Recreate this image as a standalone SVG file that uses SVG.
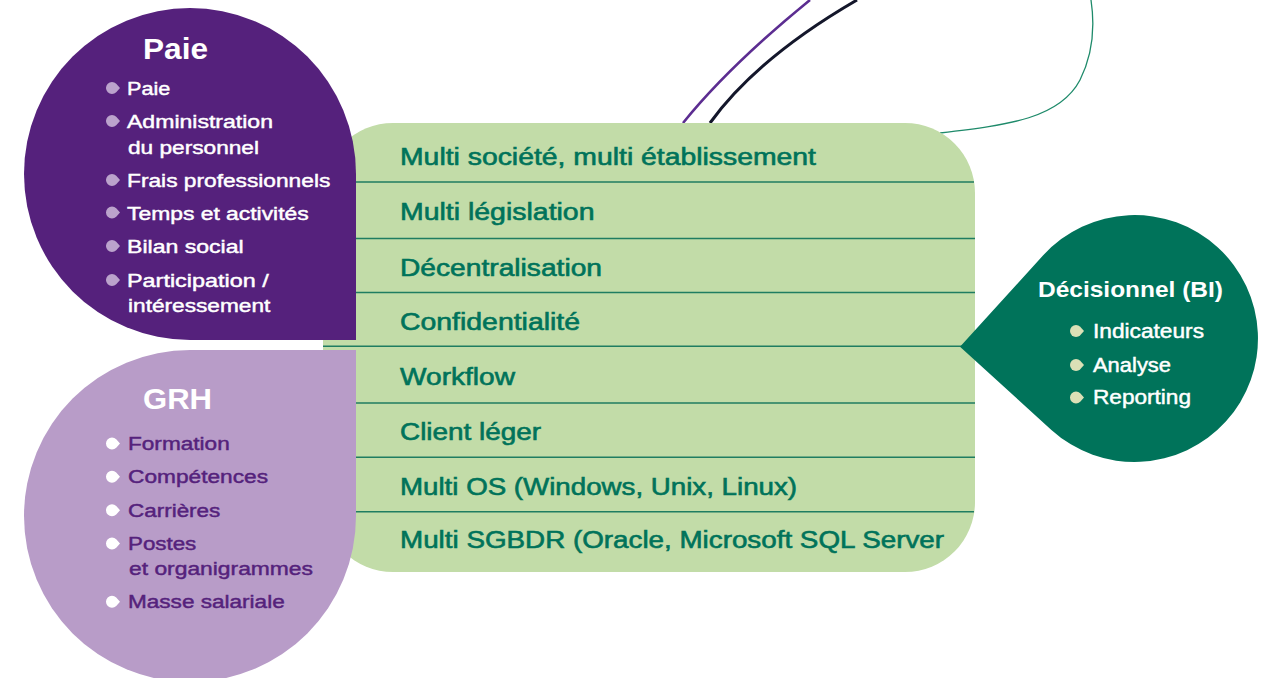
<svg xmlns="http://www.w3.org/2000/svg" width="1275" height="678" viewBox="0 0 1275 678">
<defs>
<path id="bul" d="M 8,0 L 4.24,-4.24 A 6 6 0 1 0 4.24,4.24 Z"/>
<style>
text{font-family:"Liberation Sans",Arial,sans-serif}
.feat{font-size:23.5px;fill:#00735a;stroke:#00735a;stroke-width:0.6}
.sep{stroke:#1f7d61;stroke-width:1.6;fill:none}
.title{font-size:29.5px;font-weight:bold;fill:#ffffff}
.pi{font-size:18.8px;fill:#ffffff;stroke:#ffffff;stroke-width:0.45}
.gi{font-size:18.8px;fill:#55227c;stroke:#55227c;stroke-width:0.45}
.bt{font-size:22.5px;font-weight:bold;fill:#ffffff}
.bi{font-size:20px;fill:#ffffff;stroke:#ffffff;stroke-width:0.45}
</style>
</defs>
<rect width="1275" height="678" fill="#ffffff"/>
<g id="connectors" fill="none">
<path d="M 683,123 Q 729,66 810,0" stroke="#5c2d91" stroke-width="2.6"/>
<path d="M 710,123 Q 757,58 857,0" stroke="#14172b" stroke-width="3"/>
<path d="M 940,133 C 1010,125 1060,118 1080,80 C 1095,50 1094,20 1091,0" stroke="#1e8a6a" stroke-width="1.3"/>
</g>
<g id="features">
<rect x="323" y="123" width="652" height="449" rx="70" ry="70" fill="#c2dca8"/>
<line class="sep" x1="340" y1="182" x2="974" y2="182"/>
<line class="sep" x1="340" y1="238.5" x2="975" y2="238.5"/>
<line class="sep" x1="340" y1="292.5" x2="975" y2="292.5"/>
<line class="sep" x1="323" y1="346.3" x2="962" y2="346.3"/>
<line class="sep" x1="340" y1="403" x2="975" y2="403"/>
<line class="sep" x1="340" y1="457.3" x2="975" y2="457.3"/>
<line class="sep" x1="340" y1="511.7" x2="974" y2="511.7"/>
<text class="feat" x="400" y="165" textLength="416" lengthAdjust="spacingAndGlyphs">Multi société, multi établissement</text>
<text class="feat" x="400" y="220" textLength="194.5" lengthAdjust="spacingAndGlyphs">Multi législation</text>
<text class="feat" x="400" y="275.5" textLength="202" lengthAdjust="spacingAndGlyphs">Décentralisation</text>
<text class="feat" x="400" y="330" textLength="180" lengthAdjust="spacingAndGlyphs">Confidentialité</text>
<text class="feat" x="400" y="385" textLength="115" lengthAdjust="spacingAndGlyphs">Workflow</text>
<text class="feat" x="400" y="440" textLength="141" lengthAdjust="spacingAndGlyphs">Client léger</text>
<text class="feat" x="400" y="495" textLength="397" lengthAdjust="spacingAndGlyphs">Multi OS (Windows, Unix, Linux)</text>
<text class="feat" x="400" y="548" textLength="544" lengthAdjust="spacingAndGlyphs">Multi SGBDR (Oracle, Microsoft SQL Server</text>
</g>
<g id="paie">
<path d="M 190,8 A 166 166 0 0 1 356,174 L 356,340 L 190,340 A 166 166 0 0 1 24,174 A 166 166 0 0 1 190,8 Z" fill="#55217c"/>
<text class="title" x="143" y="58.5" textLength="65" lengthAdjust="spacingAndGlyphs">Paie</text>
<g fill="#bba3cc">
<use href="#bul" x="112" y="88"/>
<use href="#bul" x="112" y="121"/>
<use href="#bul" x="112" y="180"/>
<use href="#bul" x="112" y="212.5"/>
<use href="#bul" x="112" y="246"/>
<use href="#bul" x="112" y="280"/>
</g>
<text class="pi" x="127" y="95" textLength="43.3" lengthAdjust="spacingAndGlyphs">Paie</text>
<text class="pi" x="127" y="128" textLength="146" lengthAdjust="spacingAndGlyphs">Administration</text>
<text class="pi" x="128" y="154" textLength="131" lengthAdjust="spacingAndGlyphs">du personnel</text>
<text class="pi" x="127" y="187" textLength="203.3" lengthAdjust="spacingAndGlyphs">Frais professionnels</text>
<text class="pi" x="127" y="219.5" textLength="181.7" lengthAdjust="spacingAndGlyphs">Temps et activités</text>
<text class="pi" x="127" y="253" textLength="116.7" lengthAdjust="spacingAndGlyphs">Bilan social</text>
<text class="pi" x="127" y="287" textLength="141.7" lengthAdjust="spacingAndGlyphs">Participation /</text>
<text class="pi" x="128" y="312" textLength="142.3" lengthAdjust="spacingAndGlyphs">intéressement</text>
</g>
<g id="grh">
<path d="M 24,516 A 166 166 0 0 1 190,350 L 356,350 L 356,516 A 166 166 0 0 1 190,682 A 166 166 0 0 1 24,516 Z" fill="#b89cc8"/>
<text class="title" x="143" y="408.5" textLength="69" lengthAdjust="spacingAndGlyphs">GRH</text>
<g fill="#ffffff">
<use href="#bul" x="112" y="443.5"/>
<use href="#bul" x="112" y="476.8"/>
<use href="#bul" x="112" y="510.2"/>
<use href="#bul" x="112" y="543.5"/>
<use href="#bul" x="112" y="601.8"/>
</g>
<text class="gi" x="128" y="450" textLength="101.7" lengthAdjust="spacingAndGlyphs">Formation</text>
<text class="gi" x="128" y="483.3" textLength="140" lengthAdjust="spacingAndGlyphs">Compétences</text>
<text class="gi" x="128" y="516.7" textLength="92.3" lengthAdjust="spacingAndGlyphs">Carrières</text>
<text class="gi" x="128" y="550" textLength="68.3" lengthAdjust="spacingAndGlyphs">Postes</text>
<text class="gi" x="129" y="575" textLength="184" lengthAdjust="spacingAndGlyphs">et organigrammes</text>
<text class="gi" x="128" y="608.3" textLength="156.7" lengthAdjust="spacingAndGlyphs">Masse salariale</text>
</g>
<g id="bi">
<path d="M 960,346.7 L 1043.2,255.3 A 123.5 123.5 0 1 1 1051.4,429.9 Z" fill="#00735a"/>
<text class="bt" x="1038" y="296.7" textLength="185" lengthAdjust="spacingAndGlyphs">Décisionnel (BI)</text>
<g fill="#dbe0b6">
<use href="#bul" x="1076" y="331"/>
<use href="#bul" x="1076" y="365"/>
<use href="#bul" x="1076" y="397.5"/>
</g>
<text class="bi" x="1093" y="337.7" textLength="111" lengthAdjust="spacingAndGlyphs">Indicateurs</text>
<text class="bi" x="1093" y="371.7" textLength="78" lengthAdjust="spacingAndGlyphs">Analyse</text>
<text class="bi" x="1093" y="404" textLength="98" lengthAdjust="spacingAndGlyphs">Reporting</text>
</g>
</svg>
